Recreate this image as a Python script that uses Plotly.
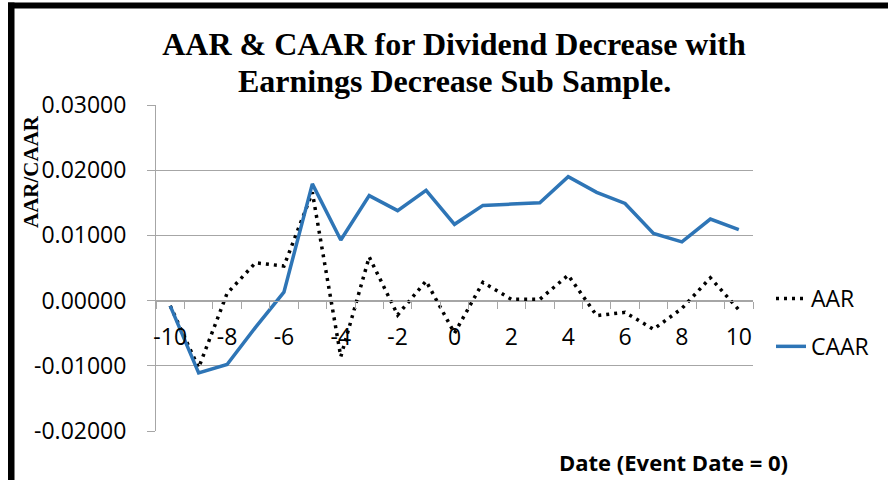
import plotly.graph_objects as go

# ---- data ----
event_days = list(range(-10, 11))
aar = [-0.0008, -0.0103, 0.0011, 0.0058, 0.0053, 0.0166, -0.0086, 0.0067, -0.0022, 0.0030,
       -0.0050, 0.0028, 0.0002, 0.0002, 0.0039, -0.0023, -0.0018, -0.0044, -0.0012, 0.0035, -0.0014]
caar = [-0.0008, -0.0111, -0.0098, -0.0041, 0.0013, 0.0179, 0.0093, 0.0161, 0.0138, 0.0169,
        0.0117, 0.0146, 0.0148, 0.0150, 0.0190, 0.0166, 0.0149, 0.0103, 0.0090, 0.0125, 0.0109]
x_tick_values = [-10, -8, -6, -4, -2, 0, 2, 4, 6, 8, 10]
x_tick_labels = ["-10", "-8", "-6", "-4", "-2", "0", "2", "4", "6", "8", "10"]
x_bin_edges = [v + 0.5 for v in range(-11, 11)]
y_tick_values = [-0.02, -0.01, 0.0, 0.01, 0.02, 0.03]
y_tick_labels = ["-0.02000", "-0.01000", "0.00000", "0.01000", "0.02000", "0.03000"]

title_line1 = "AAR & CAAR for Dividend Decrease with"
title_line2 = "Earnings Decrease Sub Sample."
y_title = "AAR/CAAR"
x_title = "Date (Event Date = 0)"

# ---- geometry helpers (pixel -> paper) ----
W, H = 888, 480
L, R, T, B = 156, 753, 105, 431


def px(xp):
    return (xp - L) / (R - L)


def py(yp):
    return (B - yp) / (B - T)


SANS = "Open Sans"
SERIF = "Liberation Serif"
GRID = "#a6a6a6"
TITLE_FONT = dict(family=SERIF, size=32, color="black", weight="bold")

fig = go.Figure()
fig.add_trace(go.Scatter(
    x=event_days, y=aar, name="AAR", mode="lines",
    line=dict(color="black", width=3.5, dash="3px,5px"),
    legendgroup="a",
))
fig.add_trace(go.Scatter(
    x=event_days, y=caar, name="CAAR", mode="lines",
    line=dict(color="#2e75b6", width=3.5),
    legendgroup="b",
))

fig.update_layout(
    width=W, height=H, autosize=False,
    margin=dict(l=L, r=W - R, t=T, b=H - B, pad=0),
    paper_bgcolor="white", plot_bgcolor="white",
    font=dict(family=SANS, size=23, color="black"),
    title=dict(
        text=title_line1, x=px(454), xanchor="center", xref="paper",
        yref="container", y=1 - 44 / H, yanchor="middle",
        font=TITLE_FONT,
    ),
    showlegend=True,
    legend=dict(
        x=px(771), xanchor="left", y=py(277), yanchor="top",
        bgcolor="rgba(0,0,0,0)", tracegroupgap=15,
        font=dict(family=SANS, size=23, color="black"),
    ),
    xaxis=dict(
        range=[-10.5, 10.5], anchor="free", position=py(300.5),
        tickmode="array", tickvals=x_tick_values, ticktext=x_tick_labels,
        ticks="", ticklabelstandoff=16,
        minor=dict(tickmode="array", tickvals=x_bin_edges, ticks="outside",
                   ticklen=7, tickcolor=GRID, tickwidth=1),
        showgrid=False, zeroline=False,
        showline=True, linecolor=GRID, linewidth=1,
        tickfont=dict(family=SANS, size=23, color="black"),
    ),
    yaxis=dict(
        range=[-0.02, 0.03],
        tickmode="array", tickvals=y_tick_values, ticktext=y_tick_labels,
        ticks="outside", ticklen=8, tickcolor=GRID, tickwidth=1,
        ticklabelstandoff=16,
        showgrid=True, gridcolor=GRID, gridwidth=1,
        zeroline=False, showline=True, linecolor=GRID, linewidth=1,
        tickfont=dict(family=SANS, size=23, color="black"),
    ),
    annotations=[
        dict(text=title_line2, xref="paper", yref="paper",
             x=px(454), y=py(80.5), xanchor="center", yanchor="middle", showarrow=False,
             font=TITLE_FONT),
        dict(text=y_title, textangle=-90, xref="paper", yref="paper",
             x=px(31), y=py(172), xanchor="center", yanchor="middle", showarrow=False,
             font=dict(family=SERIF, size=21, color="black", weight="bold")),
        dict(text=x_title, xref="paper", yref="paper",
             x=px(673), y=py(462), xanchor="center", yanchor="middle", showarrow=False,
             font=dict(family=SANS, size=22, color="black", weight="bold")),
    ],
    shapes=[
        dict(type="rect", xref="paper", yref="paper", layer="above",
             x0=px(8), x1=px(892), y0=py(8.5), y1=py(2.5),
             fillcolor="black", line=dict(width=0)),
        dict(type="rect", xref="paper", yref="paper", layer="above",
             x0=px(8), x1=px(14.5), y0=py(485), y1=py(2.5),
             fillcolor="black", line=dict(width=0)),
    ],
)

fig.write_html("out.html", config={"displayModeBar": False},
               post_script="document.body.style.margin='0';")
